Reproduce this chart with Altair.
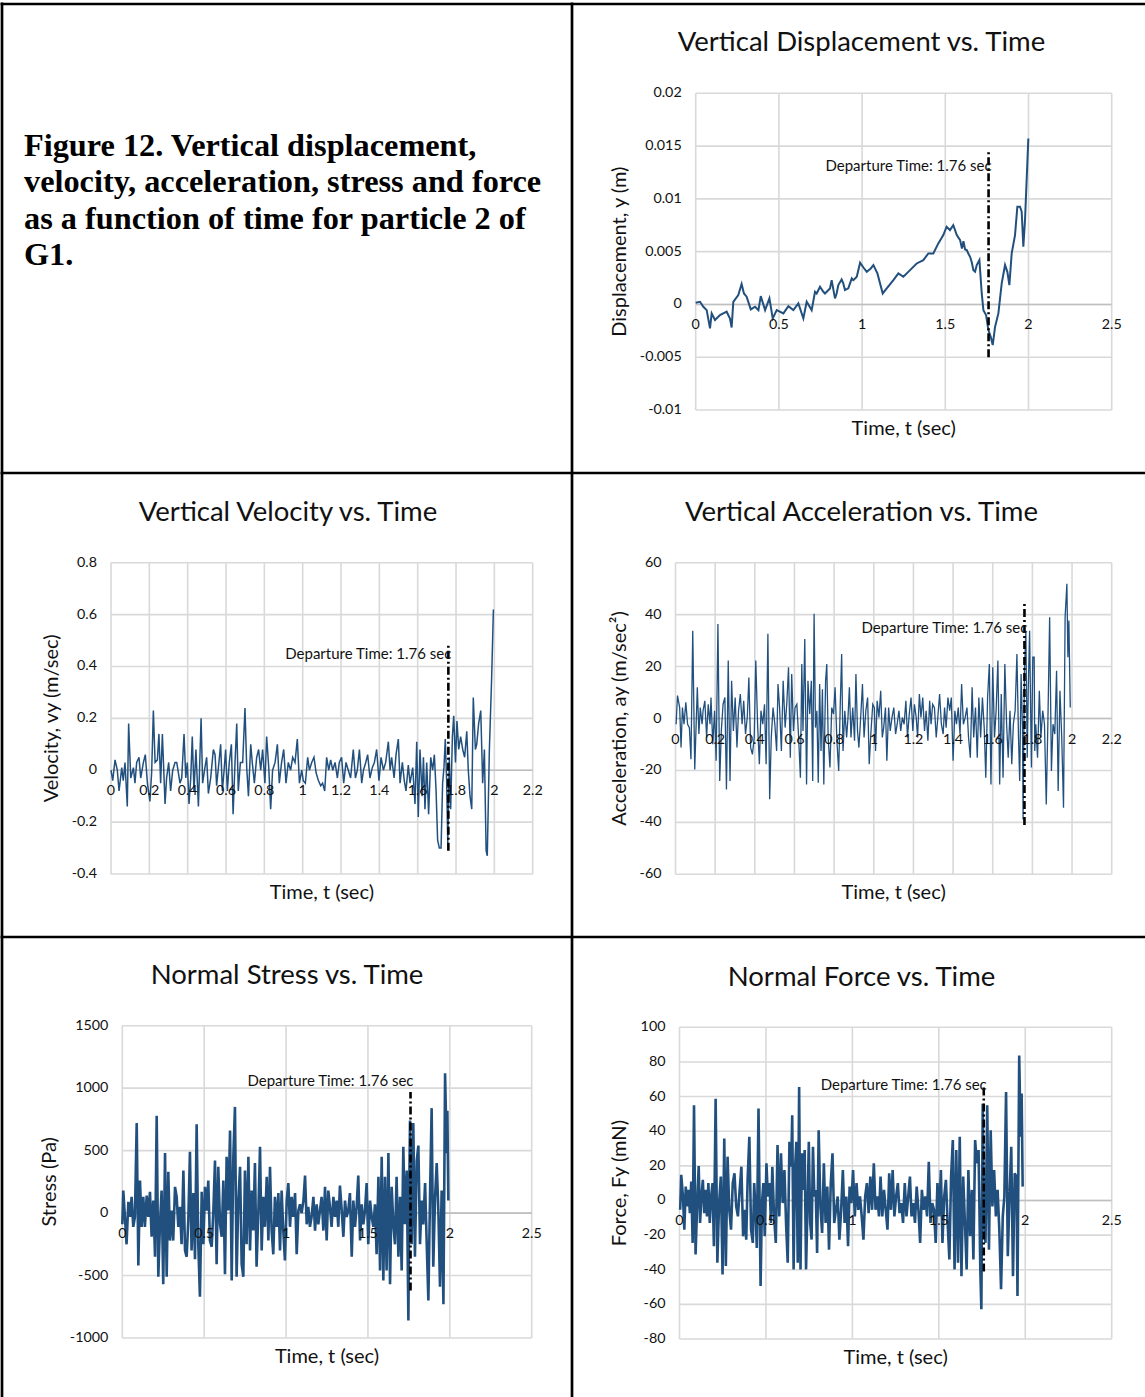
import altair as alt
import pandas as pd

# ---------------------------------------------------------------------------
# Particle 2 of G1: time series (time in s, value in the panel's unit)
# ---------------------------------------------------------------------------
DISPLACEMENT = [
    (0.000, 0.00016), (0.026, 0.00025), (0.046, -0.00022), (0.066, -0.00054),
    (0.086, -0.00227), (0.096, -0.00085), (0.116, -0.00148), (0.146, -0.00101),
    (0.186, -0.00069), (0.206, -0.00133), (0.216, -0.00218), (0.226, 0.00025),
    (0.256, 0.00088), (0.276, 0.00193), (0.290, 0.00104), (0.306, 0.00073),
    (0.331, -0.00047), (0.357, -0.00022), (0.377, -0.00054), (0.391, 0.00079),
    (0.417, -0.00054), (0.443, 0.00057), (0.463, -0.00133), (0.487, -0.00054),
    (0.527, -0.00085), (0.557, -0.00016), (0.587, -0.00054), (0.617, 0.00009),
    (0.647, -0.00133), (0.667, 0.00025), (0.697, -0.00054), (0.717, 0.00120),
    (0.727, 0.00104), (0.747, 0.00167), (0.767, 0.00120), (0.777, 0.00104),
    (0.807, 0.00152), (0.817, 0.00230), (0.837, 0.00057), (0.847, 0.00104),
    (0.857, 0.00183), (0.877, 0.00237), (0.887, 0.00199), (0.897, 0.00136),
    (0.917, 0.00152), (0.938, 0.00246), (0.948, 0.00230), (0.968, 0.00262),
    (0.988, 0.00395), (1.008, 0.00350), (1.028, 0.00309), (1.052, 0.00341),
    (1.068, 0.00373), (1.092, 0.00294), (1.124, 0.00104), (1.148, 0.00152),
    (1.188, 0.00230), (1.218, 0.00294), (1.248, 0.00262), (1.288, 0.00325),
    (1.328, 0.00388), (1.368, 0.00420), (1.398, 0.00483), (1.428, 0.00483),
    (1.458, 0.00578), (1.488, 0.00657), (1.508, 0.00736), (1.528, 0.00704),
    (1.548, 0.00751), (1.569, 0.00657), (1.589, 0.00609), (1.600, 0.00530),
    (1.609, 0.00600), (1.619, 0.00520), (1.629, 0.00515), (1.639, 0.00480),
    (1.649, 0.00451), (1.659, 0.00400), (1.669, 0.00325), (1.679, 0.00310),
    (1.689, 0.00373), (1.705, 0.00420), (1.719, 0.00104), (1.729, -0.00054),
    (1.745, -0.00101), (1.759, -0.00243), (1.773, -0.00306), (1.785, -0.00385),
    (1.799, -0.00212), (1.819, -0.00085), (1.839, 0.00199), (1.859, 0.00373),
    (1.873, 0.00309), (1.885, 0.00183), (1.899, 0.00483), (1.919, 0.00657),
    (1.933, 0.00925), (1.949, 0.00925), (1.959, 0.00878), (1.969, 0.00546),
    (1.979, 0.00799), (1.999, 0.01572),
]

VELOCITY = [
    (0.000, 0.00), (0.009, -0.04), (0.021, 0.04), (0.033, 0.00), (0.042, -0.08),
    (0.056, 0.01), (0.064, -0.04), (0.073, 0.03), (0.085, -0.14), (0.092, 0.18),
    (0.103, -0.03), (0.117, 0.01), (0.125, -0.05), (0.134, 0.03), (0.146, 0.05),
    (0.155, -0.03), (0.169, 0.03), (0.179, 0.06), (0.190, -0.05), (0.203, -0.12),
    (0.212, -0.01), (0.221, 0.23), (0.230, 0.03), (0.242, 0.04), (0.250, 0.14),
    (0.259, -0.05), (0.268, 0.14), (0.282, -0.13), (0.290, -0.03), (0.301, 0.03),
    (0.311, -0.08), (0.322, 0.00), (0.334, 0.03), (0.343, 0.03), (0.360, -0.05),
    (0.369, -0.03), (0.381, 0.14), (0.390, -0.03), (0.398, 0.03), (0.407, -0.13),
    (0.416, -0.03), (0.424, 0.13), (0.433, -0.08), (0.443, 0.08), (0.456, -0.14),
    (0.470, 0.20), (0.478, -0.05), (0.490, 0.01), (0.499, 0.05), (0.508, -0.09),
    (0.520, -0.03), (0.534, 0.08), (0.543, 0.06), (0.551, -0.06), (0.563, 0.03),
    (0.572, 0.10), (0.581, -0.08), (0.590, 0.00), (0.598, 0.08), (0.607, -0.08),
    (0.617, 0.03), (0.628, 0.10), (0.637, -0.17), (0.647, 0.03), (0.656, 0.18),
    (0.664, -0.08), (0.675, 0.03), (0.687, 0.03), (0.699, 0.24), (0.708, 0.01),
    (0.717, -0.10), (0.729, 0.10), (0.737, 0.03), (0.748, -0.05), (0.760, 0.05),
    (0.770, 0.08), (0.781, 0.00), (0.791, 0.08), (0.803, -0.05), (0.812, 0.13),
    (0.823, 0.01), (0.833, -0.15), (0.843, 0.00), (0.856, 0.03), (0.868, 0.10),
    (0.878, -0.05), (0.890, 0.03), (0.901, 0.08), (0.913, -0.05), (0.925, 0.03),
    (0.937, 0.00), (0.948, 0.05), (0.960, 0.03), (0.972, 0.12), (0.983, -0.05),
    (0.995, 0.00), (1.003, -0.04), (1.014, -0.05), (1.026, 0.05), (1.035, 0.00),
    (1.047, 0.03), (1.059, 0.05), (1.070, -0.01), (1.082, -0.04), (1.094, -0.06),
    (1.104, -0.05), (1.115, -0.08), (1.125, 0.05), (1.136, 0.00), (1.146, 0.04),
    (1.157, 0.00), (1.169, 0.03), (1.181, -0.03), (1.191, 0.03), (1.203, 0.05),
    (1.214, -0.05), (1.226, 0.03), (1.238, 0.00), (1.250, -0.03), (1.264, 0.08),
    (1.275, -0.03), (1.285, 0.00), (1.296, 0.08), (1.308, -0.05), (1.317, 0.00),
    (1.329, 0.03), (1.339, 0.06), (1.351, -0.03), (1.363, 0.01), (1.374, 0.03),
    (1.386, 0.08), (1.398, -0.04), (1.409, 0.05), (1.421, 0.00), (1.433, 0.03),
    (1.447, 0.11), (1.456, 0.00), (1.464, 0.05), (1.477, -0.03), (1.487, 0.06),
    (1.499, 0.12), (1.508, -0.05), (1.520, 0.03), (1.530, -0.04), (1.539, -0.08),
    (1.551, 0.02), (1.560, -0.05), (1.574, 0.01), (1.586, -0.13), (1.595, 0.11),
    (1.603, -0.18), (1.612, 0.08), (1.623, -0.10), (1.630, 0.05), (1.638, -0.15),
    (1.647, 0.03), (1.657, -0.17), (1.668, 0.05), (1.678, 0.00), (1.687, 0.06),
    (1.696, -0.08), (1.704, -0.27), (1.713, -0.30), (1.722, -0.30), (1.730, -0.05),
    (1.737, 0.01), (1.744, 0.12), (1.751, -0.04), (1.757, -0.28), (1.765, 0.05),
    (1.772, -0.15), (1.781, 0.13), (1.788, 0.21), (1.797, 0.03), (1.805, 0.19),
    (1.814, 0.08), (1.824, 0.13), (1.835, 0.08), (1.845, 0.05), (1.856, 0.15),
    (1.864, 0.00), (1.873, -0.10), (1.882, -0.15), (1.890, 0.28), (1.901, 0.08),
    (1.908, 0.10), (1.918, 0.18), (1.929, 0.23), (1.939, -0.05), (1.948, 0.08),
    (1.957, -0.31), (1.963, -0.33), (1.974, 0.08), (1.986, 0.36), (1.995, 0.62),
]

ACCELERATION = [
    (0.003, -2.2), (0.010, 8.8), (0.021, 4.2), (0.028, -11.2), (0.035, 4.2),
    (0.043, -2.2), (0.052, 6.2), (0.061, -2.2), (0.070, -3.5), (0.078, -15.7),
    (0.087, 33.8), (0.097, -19.6), (0.110, 12.0), (0.118, -6.0), (0.125, 4.2),
    (0.134, -2.2), (0.139, 3.0), (0.148, 6.8), (0.157, -7.3), (0.165, 5.5),
    (0.174, -2.2), (0.179, 8.1), (0.188, -9.9), (0.197, 3.0), (0.205, -16.3),
    (0.214, 36.4), (0.223, -24.1), (0.231, -4.8), (0.240, 5.5), (0.249, 8.1),
    (0.257, -27.3), (0.266, 22.3), (0.275, -24.1), (0.283, 14.5), (0.292, -4.8),
    (0.301, 8.1), (0.310, -11.2), (0.318, 3.0), (0.327, 9.4), (0.336, -2.2),
    (0.344, 6.8), (0.353, -6.0), (0.362, 0.4), (0.370, 15.8), (0.379, -11.2),
    (0.388, -13.8), (0.397, -7.3), (0.405, 22.3), (0.414, -2.2), (0.423, -17.6),
    (0.431, 3.0), (0.440, -2.2), (0.449, 5.5), (0.457, -17.6), (0.466, 32.6),
    (0.475, -31.1), (0.483, -7.3), (0.492, 4.2), (0.501, -2.2), (0.510, -12.5),
    (0.517, 13.3), (0.525, 4.2), (0.534, -12.5), (0.543, 14.5), (0.553, -3.5),
    (0.562, 6.8), (0.570, 19.7), (0.579, -15.1), (0.586, 17.1), (0.595, -4.8),
    (0.603, 4.2), (0.612, 5.5), (0.621, -7.3), (0.630, -22.8), (0.637, 21.0),
    (0.643, -4.8), (0.652, 30.6), (0.661, -25.4), (0.668, 14.5), (0.677, 1.7),
    (0.685, 14.5), (0.692, -24.1), (0.699, 40.3), (0.706, -3.5), (0.713, 3.0),
    (0.720, -24.7), (0.727, 13.3), (0.734, -12.5), (0.741, 11.3), (0.748, -25.4),
    (0.757, 14.5), (0.763, 21.0), (0.770, -7.3), (0.779, -18.9), (0.788, 4.2),
    (0.797, 1.7), (0.805, 12.0), (0.814, -8.6), (0.823, -20.2), (0.831, 5.5),
    (0.838, 24.8), (0.845, -12.5), (0.854, 3.0), (0.863, -7.3), (0.870, 0.4),
    (0.877, 12.0), (0.885, -7.3), (0.894, 4.2), (0.903, -8.6), (0.910, 17.1),
    (0.918, -4.8), (0.925, -11.2), (0.934, 0.4), (0.943, 13.3), (0.951, -7.3),
    (0.960, 3.0), (0.969, 8.1), (0.977, -17.6), (0.986, -4.8), (0.995, 5.5),
    (1.003, 4.2), (1.009, -12.5), (1.017, 6.8), (1.026, 0.4), (1.035, 10.7),
    (1.043, -7.3), (1.050, -3.5), (1.059, 4.2), (1.066, -16.3), (1.075, 4.2),
    (1.083, -4.8), (1.092, 0.4), (1.101, 4.2), (1.110, -6.0), (1.118, -2.2),
    (1.127, 3.0), (1.136, -4.8), (1.144, 0.4), (1.153, -2.2), (1.162, 6.8),
    (1.170, -7.3), (1.179, 1.7), (1.188, 8.1), (1.197, -4.8), (1.205, 5.5),
    (1.214, 0.4), (1.221, -7.3), (1.230, 9.4), (1.238, 0.4), (1.247, 8.1),
    (1.256, -4.8), (1.264, 3.0), (1.273, -8.6), (1.282, 6.8), (1.289, -2.2),
    (1.297, 5.5), (1.306, 4.2), (1.315, -7.3), (1.323, 0.4), (1.332, 9.4),
    (1.341, -2.2), (1.350, -6.0), (1.357, 4.2), (1.365, -3.5), (1.374, 8.1),
    (1.383, 3.0), (1.391, 8.1), (1.400, -16.3), (1.409, 3.0), (1.417, -2.2),
    (1.426, 4.2), (1.435, -6.0), (1.443, 13.3), (1.452, -2.2), (1.461, 0.4),
    (1.470, 4.2), (1.478, -7.3), (1.487, -15.1), (1.496, 12.0), (1.504, -7.3),
    (1.513, 4.2), (1.522, -15.1), (1.530, 8.1), (1.539, -7.3), (1.548, 8.1),
    (1.557, -3.5), (1.565, -22.8), (1.574, 8.1), (1.583, 21.0), (1.591, -25.4),
    (1.600, 19.7), (1.609, -7.3), (1.617, 3.0), (1.626, 22.3), (1.635, -25.4),
    (1.643, 9.4), (1.652, -22.8), (1.661, 21.0), (1.670, -2.2), (1.678, -15.1),
    (1.687, 3.0), (1.696, -17.6), (1.704, -2.2), (1.713, 3.0), (1.722, 24.8),
    (1.730, -7.3), (1.736, -24.1), (1.743, 17.1), (1.750, -3.5), (1.753, -38.9),
    (1.760, 18.4), (1.767, 33.8), (1.774, -15.1), (1.779, 10.7), (1.786, 33.8),
    (1.795, -18.9), (1.802, 23.6), (1.809, 23.6), (1.812, -12.5), (1.817, -2.2),
    (1.826, -15.1), (1.835, 10.7), (1.843, -7.3), (1.852, 3.0), (1.861, -2.2),
    (1.870, -33.1), (1.878, -2.2), (1.887, 39.0), (1.896, -20.2), (1.904, -2.2),
    (1.913, -6.0), (1.922, 18.4), (1.930, -27.9), (1.939, 10.7), (1.948, -7.3),
    (1.957, -34.4), (1.965, 39.0), (1.974, 51.9), (1.979, 23.6), (1.984, 37.7),
    (1.991, 4.2),
]

STRESS = [
    (0.000, -90), (0.006, 180), (0.016, -30), (0.026, -250), (0.037, 90),
    (0.047, -30), (0.057, 130), (0.067, -110), (0.077, -30), (0.088, 720),
    (0.098, -420), (0.108, 260), (0.118, -110), (0.128, 130), (0.138, -110),
    (0.149, 140), (0.159, -30), (0.169, 170), (0.179, -190), (0.189, 100),
    (0.200, -350), (0.210, 780), (0.220, -510), (0.230, -90), (0.240, 180),
    (0.250, -570), (0.261, 480), (0.271, -510), (0.281, 330), (0.291, -220),
    (0.301, 20), (0.311, -220), (0.322, 210), (0.332, 130), (0.342, -110),
    (0.352, 50), (0.362, -250), (0.373, 340), (0.383, -300), (0.393, -350),
    (0.403, -60), (0.413, 490), (0.423, -300), (0.434, 160), (0.444, -370),
    (0.454, 710), (0.464, -250), (0.474, -670), (0.485, 170), (0.495, -250),
    (0.505, 210), (0.515, 20), (0.525, 260), (0.535, -220), (0.546, -270),
    (0.556, 20), (0.566, 420), (0.576, -410), (0.586, 370), (0.597, -90),
    (0.607, -190), (0.617, 260), (0.627, -490), (0.637, 450), (0.647, 20),
    (0.658, 660), (0.668, -540), (0.678, 450), (0.688, 850), (0.698, -510),
    (0.708, 80), (0.719, 370), (0.729, -410), (0.739, -510), (0.749, 340),
    (0.759, -250), (0.770, 450), (0.780, -300), (0.790, 180), (0.800, -140),
    (0.810, 400), (0.820, -430), (0.831, 20), (0.841, 530), (0.851, -300),
    (0.861, 130), (0.871, -110), (0.882, 290), (0.892, -220), (0.902, 370),
    (0.912, -140), (0.922, -330), (0.932, 130), (0.943, -110), (0.953, 160),
    (0.963, -300), (0.973, 180), (0.983, -140), (0.993, -380), (1.004, 100),
    (1.014, 240), (1.024, -110), (1.034, 130), (1.044, -30), (1.055, 160),
    (1.065, -330), (1.075, 20), (1.085, 70), (1.095, 0), (1.106, 100),
    (1.116, 300), (1.126, -90), (1.136, 50), (1.146, -110), (1.156, -30),
    (1.167, 130), (1.177, -140), (1.187, 70), (1.197, -90), (1.207, 20),
    (1.217, 130), (1.228, -140), (1.238, 210), (1.248, -220), (1.258, 180),
    (1.268, 50), (1.278, -110), (1.289, 130), (1.299, -30), (1.309, 100),
    (1.319, -110), (1.329, 220), (1.340, 20), (1.350, -190), (1.360, 100),
    (1.370, -30), (1.380, 20), (1.390, 160), (1.401, -350), (1.411, 100),
    (1.421, -110), (1.431, 50), (1.441, 300), (1.452, -220), (1.462, 70),
    (1.472, -90), (1.482, 20), (1.492, 240), (1.502, -250), (1.513, 100),
    (1.523, -30), (1.533, -110), (1.543, 70), (1.553, -330), (1.564, 290),
    (1.574, -460), (1.584, 450), (1.594, -540), (1.604, 290), (1.614, -460),
    (1.625, 480), (1.635, -570), (1.645, 210), (1.655, -90), (1.665, -250),
    (1.675, 290), (1.686, -350), (1.696, 130), (1.706, -460), (1.716, 530),
    (1.726, -90), (1.737, 340), (1.747, -860), (1.753, 290), (1.757, 740),
    (1.767, -250), (1.777, 720), (1.787, -350), (1.798, 420), (1.808, 540),
    (1.818, -250), (1.828, 100), (1.838, -90), (1.849, 240), (1.859, -250),
    (1.869, -700), (1.879, 130), (1.889, 840), (1.899, -430), (1.910, 130),
    (1.920, 400), (1.930, 20), (1.940, -590), (1.950, 180), (1.961, -730),
    (1.971, 1120), (1.981, 480), (1.985, 820), (1.991, 100),
]

FORCE = [
    (0.004, -5.4), (0.010, 14.8), (0.020, 2.3), (0.028, -16.9), (0.036, 8.0),
    (0.044, -3.4), (0.052, 6.1), (0.060, -7.3), (0.068, 10.9), (0.076, -24.5),
    (0.084, 55.0), (0.093, -31.2), (0.103, 0.4), (0.111, 19.9), (0.119, -13.0),
    (0.127, 2.3), (0.135, 11.9), (0.143, -7.3), (0.151, 6.1), (0.159, -9.2),
    (0.167, 10.0), (0.175, -13.0), (0.183, 2.3), (0.191, 10.0), (0.199, -26.4),
    (0.209, 58.8), (0.219, -36.0), (0.229, -1.5), (0.239, 13.8), (0.249, -42.7),
    (0.259, 35.8), (0.268, -37.9), (0.278, 25.3), (0.288, -5.4), (0.298, -16.9),
    (0.308, 10.0), (0.318, 15.7), (0.328, -3.4), (0.338, -9.2), (0.348, 6.1),
    (0.358, 19.5), (0.368, -20.7), (0.378, -5.4), (0.386, -22.6), (0.394, 11.9),
    (0.404, 36.8), (0.414, -16.9), (0.424, -24.5), (0.432, 10.0), (0.440, -5.4),
    (0.447, -27.4), (0.457, 53.1), (0.469, -49.4), (0.477, -1.5), (0.485, 10.0),
    (0.493, -20.7), (0.503, 21.5), (0.511, 2.3), (0.521, 10.0), (0.529, -13.0),
    (0.537, 19.5), (0.547, -9.2), (0.557, -24.5), (0.567, 32.0), (0.577, -9.2),
    (0.587, 27.2), (0.597, -1.5), (0.607, 17.6), (0.617, -14.9), (0.626, -36.0),
    (0.636, 33.9), (0.646, 19.5), (0.652, 49.2), (0.660, -39.8), (0.668, 17.6),
    (0.676, 33.9), (0.684, -36.0), (0.692, 65.5), (0.700, -39.8), (0.708, 27.2),
    (0.716, 6.1), (0.724, 29.1), (0.732, -39.8), (0.740, -5.4), (0.748, 33.9),
    (0.756, -13.0), (0.764, -22.6), (0.772, 31.0), (0.780, 2.3), (0.788, 6.1),
    (0.796, -30.3), (0.805, 40.6), (0.815, -3.4), (0.825, -18.8), (0.835, 21.5),
    (0.845, -13.0), (0.855, 8.0), (0.865, -28.4), (0.875, 10.0), (0.885, 27.2),
    (0.895, -13.0), (0.905, -5.4), (0.915, 2.3), (0.925, -22.6), (0.935, -5.4),
    (0.945, 17.6), (0.955, -13.0), (0.965, 2.3), (0.975, -26.4), (0.984, 8.0),
    (0.994, -1.5), (1.004, 17.6), (1.014, -9.2), (1.024, 10.0), (1.034, -5.4),
    (1.044, 2.3), (1.054, -9.2), (1.064, -22.6), (1.074, 2.3), (1.084, 10.0),
    (1.094, -7.3), (1.104, 13.8), (1.114, -5.4), (1.124, 21.5), (1.134, -5.4),
    (1.144, 2.3), (1.154, -9.2), (1.163, 13.8), (1.173, -9.2), (1.183, 6.1),
    (1.193, -5.4), (1.203, -16.9), (1.213, 15.7), (1.223, -5.4), (1.233, 17.6),
    (1.243, -9.2), (1.253, 2.3), (1.263, 10.0), (1.273, -7.3), (1.283, -1.5),
    (1.293, -13.0), (1.303, 10.0), (1.313, -9.2), (1.323, 2.3), (1.333, 13.8),
    (1.342, -9.2), (1.352, -1.5), (1.362, -13.0), (1.372, 8.0), (1.382, -5.4),
    (1.392, -24.5), (1.402, 6.1), (1.412, -5.4), (1.422, 2.3), (1.432, -9.2),
    (1.442, 22.4), (1.452, -13.0), (1.462, -1.5), (1.472, -5.4), (1.482, -24.5),
    (1.492, 10.0), (1.502, -9.2), (1.512, 17.6), (1.521, -24.5), (1.531, 2.3),
    (1.541, 11.9), (1.551, -13.0), (1.561, -34.1), (1.571, 13.8), (1.581, 34.9),
    (1.591, -39.8), (1.601, 29.1), (1.611, -36.0), (1.621, 36.8), (1.631, -43.7),
    (1.641, 13.8), (1.651, -13.0), (1.661, -39.8), (1.671, 17.6), (1.681, -20.7),
    (1.691, 6.1), (1.700, -34.1), (1.710, 34.9), (1.720, 21.5), (1.730, 29.1),
    (1.740, -39.8), (1.746, -62.8), (1.754, 55.9), (1.762, -13.0), (1.770, -24.5),
    (1.780, 55.0), (1.790, -28.4), (1.800, 40.6), (1.810, -3.4), (1.820, 17.6),
    (1.830, -9.2), (1.840, 6.1), (1.850, -16.9), (1.860, -51.3), (1.870, -9.2),
    (1.879, 2.3), (1.889, 62.6), (1.899, -32.2), (1.909, 2.3), (1.919, 31.0),
    (1.929, -43.7), (1.939, 15.7), (1.949, 13.8), (1.955, -55.2), (1.965, 83.7),
    (1.973, 36.8), (1.979, 61.7), (1.985, 8.0),
]

DEPARTURE_TIME = 1.76
DEPARTURE_TEXT = "Departure Time: 1.76 sec"

# Axis ticks and their printed labels
T_TICKS_25 = [0, 0.5, 1, 1.5, 2, 2.5]
T_LABELS_25 = ["0", "0.5", "1", "1.5", "2", "2.5"]
T_TICKS_22 = [0, 0.2, 0.4, 0.6, 0.8, 1, 1.2, 1.4, 1.6, 1.8, 2, 2.2]
T_LABELS_22 = ["0", "0.2", "0.4", "0.6", "0.8", "1", "1.2", "1.4", "1.6", "1.8", "2", "2.2"]

DISP_TICKS = [-0.01, -0.005, 0, 0.005, 0.01, 0.015, 0.02]
DISP_LABELS = ["-0.01", "-0.005", "0", "0.005", "0.01", "0.015", "0.02"]
VEL_TICKS = [-0.4, -0.2, 0, 0.2, 0.4, 0.6, 0.8]
VEL_LABELS = ["-0.4", "-0.2", "0", "0.2", "0.4", "0.6", "0.8"]
ACC_TICKS = [-60, -40, -20, 0, 20, 40, 60]
ACC_LABELS = ["-60", "-40", "-20", "0", "20", "40", "60"]
STRESS_TICKS = [-1000, -500, 0, 500, 1000, 1500]
STRESS_LABELS = ["-1000", "-500", "0", "500", "1000", "1500"]
FORCE_TICKS = [-80, -60, -40, -20, 0, 20, 40, 60, 80, 100]
FORCE_LABELS = ["-80", "-60", "-40", "-20", "0", "20", "40", "60", "80", "100"]

CAPTION = [
    "Figure 12. Vertical displacement,",
    "velocity, acceleration, stress and force",
    "as a function of time for particle 2 of",
    "G1.",
]

# ---------------------------------------------------------------------------
# Styling
# ---------------------------------------------------------------------------
FONT = "Lato"
SERIES_BLUE = "#22507e"
GRID = "#d9d9d9"
ZERO_AXIS = "#bfbfbf"
TEXT = "#111111"
TITLE_SIZE = 27.5
AXIS_TITLE_SIZE = 20
TICK_SIZE = 14.3
NOTE_SIZE = 15


def one_row(**kw):
    return pd.DataFrame({k: [v] for k, v in kw.items()})


def panel(series, t_dom, px_x, v_dom, px_y, t_ticks, t_labels, v_ticks, v_labels,
          dep_span, dep_label_v, line_w, title, title_at, y_title, y_title_x):
    """One Excel-style panel drawn into a fixed pixel box of the page."""
    xs = alt.Scale(domain=t_dom, range=px_x, nice=False, zero=False)
    ys = alt.Scale(domain=v_dom, range=[px_y[1], px_y[0]], nice=False, zero=False)

    def X(f):
        return alt.X(f, type="quantitative", scale=xs, axis=None)

    def Y(f):
        return alt.Y(f, type="quantitative", scale=ys, axis=None)

    h_grid = alt.Chart(pd.DataFrame({"v": v_ticks, "a": t_dom[0], "b": t_dom[1]})).mark_rule(
        color=GRID, strokeWidth=1.6
    ).encode(x=X("a"), x2="b", y=Y("v"))

    v_grid = alt.Chart(pd.DataFrame({"t": t_ticks, "a": v_dom[0], "b": v_dom[1]})).mark_rule(
        color=GRID, strokeWidth=1.6
    ).encode(x=X("t"), y=Y("a"), y2="b")

    zero_axis = alt.Chart(one_row(a=t_dom[0], b=t_dom[1], z=0)).mark_rule(
        color=ZERO_AXIS, strokeWidth=1.6
    ).encode(x=X("a"), x2="b", y=Y("z"))

    df = pd.DataFrame(series, columns=["t", "v"])
    line = alt.Chart(df).mark_line(color=SERIES_BLUE, strokeWidth=line_w).encode(
        x=X("t"), y=Y("v")
    )

    dep_line = alt.Chart(one_row(t=DEPARTURE_TIME, a=dep_span[0], b=dep_span[1])).mark_rule(
        color="black", strokeWidth=2.6, strokeDash=[8, 3, 2, 3]
    ).encode(x=X("t"), y=Y("a"), y2="b")

    dep_text = alt.Chart(one_row(t=DEPARTURE_TIME, v=dep_label_v, s=DEPARTURE_TEXT)).mark_text(
        align="right", baseline="middle", dx=3, font=FONT, fontSize=NOTE_SIZE, color=TEXT
    ).encode(x=X("t"), y=Y("v"), text="s")

    x_labels = alt.Chart(pd.DataFrame({"t": t_ticks, "z": 0, "s": t_labels})).mark_text(
        align="center", baseline="middle", dy=21, font=FONT, fontSize=TICK_SIZE, color=TEXT
    ).encode(x=X("t"), y=Y("z"), text="s")

    y_labels = alt.Chart(pd.DataFrame({"v": v_ticks, "a": t_dom[0], "s": v_labels})).mark_text(
        align="right", baseline="middle", dx=-14, font=FONT, fontSize=TICK_SIZE, color=TEXT
    ).encode(x=X("a"), y=Y("v"), text="s")

    title_mark = alt.Chart(one_row(s=title)).mark_text(
        align="center", baseline="middle", font=FONT, fontSize=TITLE_SIZE, color=TEXT
    ).encode(x=alt.value(title_at[0]), y=alt.value(title_at[1]), text="s")

    x_title = alt.Chart(one_row(s="Time, t (sec)")).mark_text(
        align="center", baseline="middle", font=FONT, fontSize=AXIS_TITLE_SIZE, color=TEXT
    ).encode(
        x=alt.value((px_x[0] + px_x[1]) / 2), y=alt.value(px_y[1] + 18.5), text="s"
    )

    y_title_mark = alt.Chart(one_row(s=y_title)).mark_text(
        align="center", baseline="middle", angle=270, font=FONT,
        fontSize=AXIS_TITLE_SIZE, color=TEXT
    ).encode(
        x=alt.value(y_title_x), y=alt.value((px_y[0] + px_y[1]) / 2), text="s"
    )

    return alt.layer(
        h_grid, v_grid, zero_axis, line, dep_line, dep_text,
        x_labels, y_labels, title_mark, x_title, y_title_mark,
    )


disp = panel(DISPLACEMENT, [0, 2.5], [695.7, 1111.7], [-0.01, 0.02], [93.3, 410],
             T_TICKS_25, T_LABELS_25, DISP_TICKS, DISP_LABELS,
             (-0.005, 0.0145), 0.0131, 2.0,
             "Vertical Displacement vs. Time", (861.5, 43),
             "Displacement, y (m)", 620)

vel = panel(VELOCITY, [0, 2.2], [111, 532.7], [-0.4, 0.8], [562.7, 874],
            T_TICKS_22, T_LABELS_22, VEL_TICKS, VEL_LABELS,
            (-0.31, 0.49), 0.448, 1.5,
            "Vertical Velocity vs. Time", (288, 513),
            "Velocity, vy (m/sec)", 52)

acc = panel(ACCELERATION, [0, 2.2], [675.5, 1111.7], [-60, 60], [562.7, 874.3],
            T_TICKS_22, T_LABELS_22, ACC_TICKS, ACC_LABELS,
            (-41, 45), 34.9, 1.3,
            "Vertical Acceleration vs. Time", (861.5, 513),
            "Acceleration, ay (m/sec²)", 620)

stress = panel(STRESS, [0, 2.5], [122.3, 531.7], [-1000, 1500], [1025.7, 1338],
               T_TICKS_25, T_LABELS_25, STRESS_TICKS, STRESS_LABELS,
               (-620, 970), 1059, 2.6,
               "Normal Stress vs. Time", (287, 976),
               "Stress (Pa)", 50)

force = panel(FORCE, [0, 2.5], [679.5, 1111.7], [-80, 100], [1027.3, 1339],
              T_TICKS_25, T_LABELS_25, FORCE_TICKS, FORCE_LABELS,
              (-41, 66), 66.9, 2.6,
              "Normal Force vs. Time", (861.5, 978),
              "Force, Fy (mN)", 620)

# Caption in the first cell
caption = alt.Chart(one_row(k=0)).mark_text(
    text=CAPTION, align="left", baseline="alphabetic", lineHeight=36.3,
    font="Liberation Serif", fontWeight="bold", fontSize=32.3, color="black"
).encode(x=alt.value(24), y=alt.value(156))


# Table frame around the six cells
def frame_h(y, x0, x1):
    return alt.Chart(one_row(k=0)).mark_rule(color="black", strokeWidth=2.7).encode(
        x=alt.value(x0), x2=alt.value(x1), y=alt.value(y)
    )


def frame_v(x, y0, y1):
    return alt.Chart(one_row(k=0)).mark_rule(color="black", strokeWidth=2.7).encode(
        x=alt.value(x), y=alt.value(y0), y2=alt.value(y1)
    )


frame = [
    frame_h(4, 0.6, 1145), frame_h(473, 0.6, 1145), frame_h(937, 0.6, 1145),
    frame_v(2, 2.6, 1397), frame_v(572, 2.6, 1397),
]

chart = alt.layer(
    *frame, caption, disp, vel, acc, stress, force
).resolve_scale(
    x="independent", y="independent"
).properties(
    width=1145, height=1397, padding=0,
    autosize=alt.AutoSizeParams(type="none"),
    background="white",
).configure_view(strokeWidth=0)

chart.save("out.html", embed_options={"renderer": "svg", "actions": False})
